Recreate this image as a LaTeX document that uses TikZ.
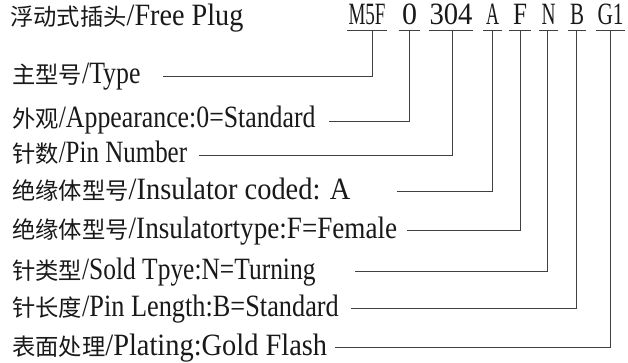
\documentclass[tikz,border=0pt]{standalone}
\usepackage{fontspec}
\usepackage{graphicx}
\setmainfont{Liberation Serif}
\newfontfamily\cjkfont{Noto Sans CJK SC}
\newlength\cw \setlength\cw{11.67pt}
\newcommand\lat[2]{\resizebox{#1\cw}{\height}{\fontsize{31}{33}\selectfont #2}}
\newcommand\latw[2]{\resizebox{#1}{\height}{\fontsize{31}{33}\selectfont #2}}
\newcommand\han[1]{{\fontsize{23.3}{26}\cjkfont #1}}
\begin{document}
\begin{tikzpicture}[x=1pt,y=-1pt,
  lbl/.style={anchor=base west, inner sep=0pt, text=black!90},
  code/.style={anchor=base, inner sep=0pt, text depth=5.7pt, text=black!90},
  ln/.style={draw=black!75, line width=0.9pt}]
\useasboundingbox[fill=white] (0,0) rectangle (628,363);

\node[lbl] (title) at (10,26) {\han{浮动式插头}\lat{10}{/Free Plug}};

\node[code, minimum width=40pt] (c1) at (367,25) {\latw{37pt}{M5F}};
\node[code, minimum width=21pt] (c2) at (409.5,25) {\latw{15pt}{0}};
\node[code, minimum width=44pt] (c3) at (451,25) {\latw{43pt}{304}};
\node[code, minimum width=19pt] (c4) at (492.5,25) {\latw{13pt}{A}};
\node[code, minimum width=22pt] (c5) at (520,25) {\latw{14pt}{F}};
\node[code, minimum width=19pt] (c6) at (548.5,25) {\latw{14pt}{N}};
\node[code, minimum width=18pt] (c7) at (577,25) {\latw{14pt}{B}};
\node[code, minimum width=29pt] (c8) at (610.5,25) {\latw{26pt}{G1}};
\foreach \n in {c1,c2,c3,c4,c5,c6,c7,c8} \draw[ln] (\n.south west) -- (\n.south east);

\node[lbl] (r1) at (12,84) {\han{主型号}\lat{5}{/Type}};
\node[lbl] (r2) at (12,128) {\han{外观}\lat{22}{/Appearance:0=Standard}};
\node[lbl] (r3) at (12,163) {\han{针数}\lat{11}{/Pin Number}};
\node[lbl] (r4) at (12,200) {\han{绝缘体型号}\lat{19}{/Insulator coded: A}};
\node[lbl] (r5) at (12,238) {\han{绝缘体型号}\lat{23}{/Insulatortype:F=Female}};
\node[lbl] (r6) at (12,279) {\han{针类型}\lat{20}{/Sold Tpye:N=Turning}};
\node[lbl] (r7) at (12,316) {\han{针长度}\lat{22}{/Pin Length:B=Standard}};
\node[lbl] (r8) at (12,355) {\han{表面处理}\lat{19}{/Plating:Gold Flash}};

\coordinate (s1) at (163,76);
\coordinate (s2) at (329,121);
\coordinate (s3) at (199,155);
\coordinate (s4) at (397,191);
\coordinate (s5) at (407,230);
\coordinate (s6) at (355,271);
\coordinate (s7) at (351,308);
\coordinate (s8) at (335,347);

\draw[ln] (s1) -| ([xshift=5pt]c1.south);
\draw[ln] (s2) -| (c2.south);
\draw[ln] (s3) -| ([xshift=1pt]c3.south);
\draw[ln] (s4) -| (c4.south);
\draw[ln] (s5) -| (c5.south);
\draw[ln] (s6) -| ([xshift=-1pt]c6.south);
\draw[ln] (s7) -| ([xshift=-1pt]c7.south);
\draw[ln] (s8) -| (c8.south);
\end{tikzpicture}
\end{document}
